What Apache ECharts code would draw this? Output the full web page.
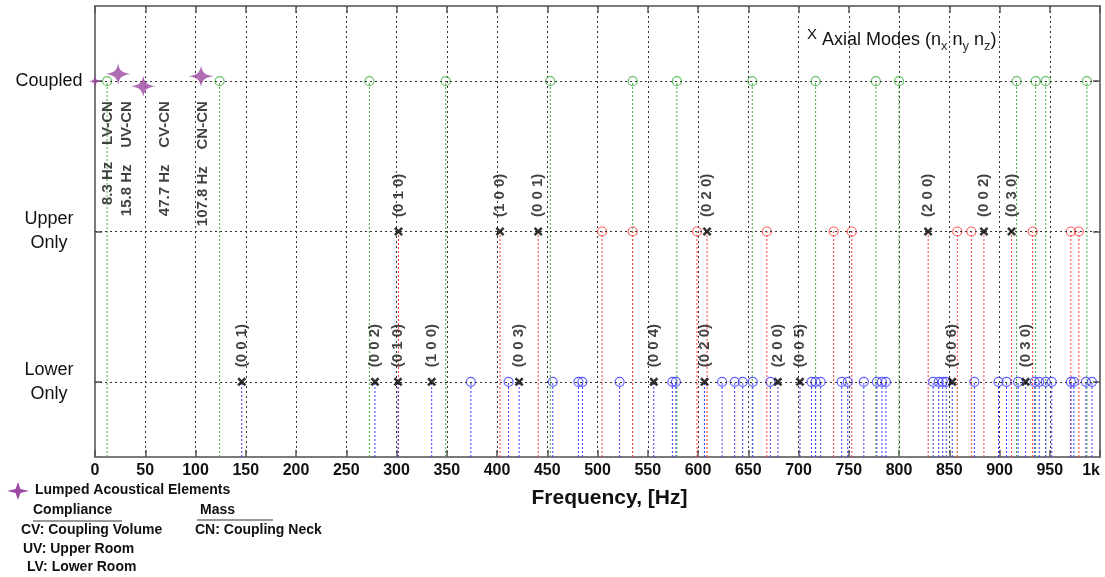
<!DOCTYPE html>
<html>
<head>
<meta charset="utf-8">
<script src="https://cdn.jsdelivr.net/npm/echarts@6/dist/echarts.min.js"></script>
<style>
html,body{margin:0;padding:0;background:#fff;}
#chart{width:1105px;height:577px;}
</style>
</head>
<body>
<div id="chart"></div>
<script>
// ---- data ----
const rowValues = [1, 2, 3];
const rowLabels = ['Lower\nOnly', 'Upper\nOnly', 'Coupled'];

// Coupled modes (green)
const coupledFreqs = [12, 124, 273, 349, 453, 535, 579, 654, 717, 777, 800, 917, 936, 946, 987];

// Upper-only modes (red circles) and axial modes (x)
const upperFreqs = [504.5, 535, 599, 668.5, 735, 753, 858, 872, 933, 971, 979];
const upperAxialFreqs = [302, 403, 441, 609, 829, 884.5, 912];
const upperAxialLabels = ['(0 1 0)', '(1 0 0)', '(0 0 1)', '(0 2 0)', '(2 0 0)', '(0 0 2)', '(0 3 0)'];

// Lower-only modes (blue circles) and axial modes (x)
const lowerFreqs = [374, 411.5, 455.5, 481, 485, 522, 574.5, 578, 624, 636.5, 644.5, 654.5, 672,
  713, 717, 722, 743, 749, 765, 778, 783, 787, 834, 839.5, 843.5, 847, 875, 899, 907, 918.5,
  935, 939.5, 946, 952, 971, 974, 986, 992];
const lowerAxialFreqs = [146, 278.6, 301.5, 335, 422, 556, 606.5, 679.5, 701.5, 853, 926];
const lowerAxialLabels = ['(0 0 1)', '(0 0 2)', '(0 1 0)', '(1 0 0)', '(0 0 3)', '(0 0 4)', '(0 2 0)',
  '(2 0 0)', '(0 0 5)', '(0 0 6)', '(0 3 0)'];

// Lumped acoustical elements (stars) as drawn
const lumpedStarPts = [[0, 3], [23, 3.047], [48, 2.967], [105.5, 3.033]];
const lumpedFreqText = ['8.3 Hz', '15.8 Hz', '47.7 Hz', '107.8 Hz'];
const lumpedNames = ['LV-CN', 'UV-CN', 'CV-CN', 'CN-CN'];
const lumpedLabelAnchors = [[13, 2.867], [32, 2.867], [70, 2.867], [107.5, 2.867]];

// ---- styling ----
const GREEN = '#3fae3f', RED = '#ff3b3b', BLUE = '#3a3aff', PURPLE = '#9c47a3';
const yBottom = 0.5;

function stemSeries(freqs, row, color) {
  return {
    type: 'custom',
    data: freqs.map(f => [f, row]),
    encode: { x: 0, y: 1 },
    z: 2,
    silent: true,
    renderItem: function (params, api) {
      const top = api.coord([api.value(0), api.value(1)]);
      const bot = api.coord([api.value(0), yBottom]);
      return {
        type: 'line',
        shape: { x1: bot[0], y1: bot[1], x2: top[0], y2: top[1] },
        style: { stroke: color, lineWidth: 1, lineDash: [2, 2] }
      };
    }
  };
}
function circleSeries(freqs, row, color) {
  return {
    type: 'scatter',
    data: freqs.map(f => [f, row]),
    symbol: 'circle',
    symbolSize: 9,
    z: 4,
    silent: true,
    itemStyle: { color: 'rgba(0,0,0,0)', borderColor: color, borderWidth: 1.2 }
  };
}
const xPath = 'path://M0,2 L2,0 L5,3 L8,0 L10,2 L7,5 L10,8 L8,10 L5,7 L2,10 L0,8 L3,5Z';
function axialSeries(freqs, labels, row) {
  return {
    type: 'scatter',
    data: freqs.map(f => [f, row]),
    symbol: xPath,
    symbolSize: 9,
    z: 6,
    silent: true,
    itemStyle: { color: '#000' },
    label: {
      show: true,
      position: 'top',
      distance: 10,
      rotate: 90,
      align: 'left',
      verticalAlign: 'middle',
      fontFamily: 'Liberation Sans, Arial',
      fontSize: 15,
      fontWeight: 'bold',
      color: '#111',
      formatter: p => labels[p.dataIndex]
    }
  };
}
const starPath = 'path://M0,-10 C1.2,-3 3,-1.2 10,0 C3,1.2 1.2,3 0,10 C-1.2,3 -3,1.2 -10,0 C-3,-1.2 -1.2,-3 0,-10Z';

const FONT = 'Liberation Sans, Arial, sans-serif';

function starPoly(cx, cy, rx, ry) {
  const k = 0.22;
  return [[cx, cy - ry], [cx + rx * k, cy - ry * k], [cx + rx, cy], [cx + rx * k, cy + ry * k],
    [cx, cy + ry], [cx - rx * k, cy + ry * k], [cx - rx, cy], [cx - rx * k, cy - ry * k]];
}

const option = {
  backgroundColor: '#fff',
  animation: false,
  grid: { left: 95, right: 5, top: 6, bottom: 120, containLabel: false, outerBoundsMode: 'none' },
  xAxis: [{
    type: 'value', min: 0, max: 1000, interval: 50,
    position: 'bottom',
    axisLine: { show: true, onZero: false, lineStyle: { color: '#7a7a7a', width: 2 } },
    axisTick: { show: true, inside: true, length: 7, lineStyle: { color: '#555', width: 1.5 } },
    axisLabel: {
      margin: 6, fontFamily: FONT, fontSize: 16, fontWeight: 'bold', color: '#111',
      alignMaxLabel: 'right',
      formatter: v => (v === 1000 ? '1k' : String(v))
    },
    splitLine: { show: true, lineStyle: { color: '#333', width: 1, type: [2, 3] } },
    name: 'Frequency, [Hz]',
    nameLocation: 'middle',
    nameGap: 31,
    nameTextStyle: { fontFamily: FONT, fontSize: 21, fontWeight: 'bold', color: '#111', padding: [0, 0, 0, 24] }
  }, {
    type: 'value', min: 0, max: 1000, interval: 50,
    position: 'top',
    axisLine: { show: true, onZero: false, lineStyle: { color: '#7a7a7a', width: 2 } },
    axisTick: { show: true, inside: true, length: 7, lineStyle: { color: '#555', width: 1.5 } },
    axisLabel: { show: false },
    splitLine: { show: false }
  }],
  yAxis: [{
    type: 'value', min: 0.5, max: 3.5,
    position: 'left',
    axisLine: { show: true, onZero: false, lineStyle: { color: '#7a7a7a', width: 2 } },
    axisTick: { show: true, inside: true, length: 7, customValues: rowValues, lineStyle: { color: '#555', width: 1.5 } },
    axisLabel: {
      customValues: rowValues,
      margin: 46, align: 'center',
      fontFamily: FONT, fontSize: 18, color: '#111', lineHeight: 24,
      formatter: v => rowLabels[rowValues.indexOf(Math.round(v))]
    },
    splitLine: { show: false }
  }, {
    type: 'value', min: 0.5, max: 3.5,
    position: 'right',
    axisLine: { show: true, onZero: false, lineStyle: { color: '#7a7a7a', width: 2 } },
    axisTick: { show: true, inside: true, length: 7, customValues: rowValues, lineStyle: { color: '#555', width: 1.5 } },
    axisLabel: { show: false },
    splitLine: { show: false }
  }],
  series: [
    // row grid lines
    {
      type: 'scatter', data: [], silent: true,
      markLine: {
        silent: true, symbol: 'none', label: { show: false }, animation: false,
        lineStyle: { color: '#333', width: 1, type: [2, 3] },
        data: rowValues.map(v => ({ yAxis: v }))
      }
    },
    stemSeries(coupledFreqs, 3, GREEN),
    stemSeries(upperFreqs, 2, RED),
    stemSeries(upperAxialFreqs, 2, RED),
    stemSeries(lowerFreqs, 1, BLUE),
    stemSeries(lowerAxialFreqs, 1, BLUE),
    circleSeries(coupledFreqs, 3, GREEN),
    circleSeries(upperFreqs, 2, RED),
    circleSeries(lowerFreqs, 1, BLUE),
    axialSeries(upperAxialFreqs, upperAxialLabels, 2),
    axialSeries(lowerAxialFreqs, lowerAxialLabels, 1),
    // lumped elements stars
    {
      type: 'scatter',
      data: lumpedStarPts,
      symbol: starPath,
      symbolSize: (v, p) => (p.dataIndex === 0 ? [13, 11] : [25, 21]),
      clip: false,
      z: 7,
      silent: true,
      itemStyle: { color: PURPLE }
    },
    // lumped element annotations
    {
      type: 'scatter',
      data: lumpedLabelAnchors,
      symbolSize: 0,
      z: 7,
      silent: true,
      label: {
        show: true,
        position: 'inside',
        rotate: 90,
        align: 'right',
        verticalAlign: 'middle',
        fontFamily: FONT, fontSize: 15, fontWeight: 'bold', color: '#111',
        formatter: p => lumpedFreqText[p.dataIndex] + '    ' + lumpedNames[p.dataIndex]
      }
    }
  ],
  graphic: [
    {
      type: 'text', left: 807, top: 27, z: 10,
      style: {
        text: '{x|X} Axial Modes (n{s|x} n{s|y} n{s|z})',
        fontFamily: FONT, fontSize: 18, fill: '#111',
        rich: {
          x: { fontFamily: FONT, fontSize: 15, fill: '#111', verticalAlign: 'top', lineHeight: 26 },
          s: { fontFamily: FONT, fontSize: 13, fill: '#333', verticalAlign: 'bottom', lineHeight: 26 }
        }
      }
    },
    {
      type: 'polygon', z: 10,
      shape: { points: starPoly(18, 491, 11, 9) },
      style: { fill: PURPLE }
    },
    { type: 'text', left: 35, top: 483, style: { text: 'Lumped Acoustical Elements', fontFamily: FONT, fontSize: 14, fontWeight: 'bold', fill: '#111' } },
    { type: 'text', left: 33, top: 503, style: { text: 'Compliance', fontFamily: FONT, fontSize: 14, fontWeight: 'bold', fill: '#111' } },
    { type: 'line', shape: { x1: 33, y1: 521, x2: 122, y2: 521 }, style: { stroke: '#777', lineWidth: 1.5 } },
    { type: 'text', left: 200, top: 503, style: { text: 'Mass', fontFamily: FONT, fontSize: 14, fontWeight: 'bold', fill: '#111' } },
    { type: 'line', shape: { x1: 197, y1: 520, x2: 273, y2: 520 }, style: { stroke: '#777', lineWidth: 1.5 } },
    { type: 'text', left: 21, top: 523, style: { text: 'CV: Coupling Volume', fontFamily: FONT, fontSize: 14, fontWeight: 'bold', fill: '#111' } },
    { type: 'text', left: 195, top: 523, style: { text: 'CN: Coupling Neck', fontFamily: FONT, fontSize: 14, fontWeight: 'bold', fill: '#111' } },
    { type: 'text', left: 23, top: 542, style: { text: 'UV: Upper Room', fontFamily: FONT, fontSize: 14, fontWeight: 'bold', fill: '#111' } },
    { type: 'text', left: 27, top: 560, style: { text: 'LV: Lower Room', fontFamily: FONT, fontSize: 14, fontWeight: 'bold', fill: '#111' } }
  ]
};

const chart = echarts.init(document.getElementById('chart'), null, { renderer: 'canvas' });
chart.setOption(option);
</script>
</body>
</html>
